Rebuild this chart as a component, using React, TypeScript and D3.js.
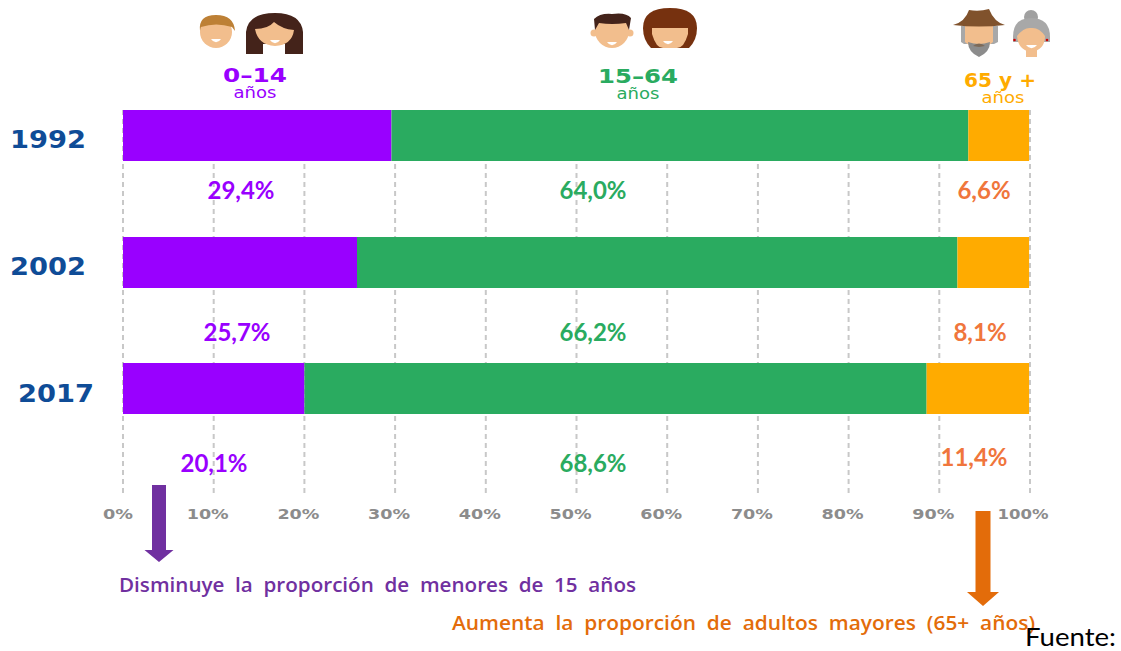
import React from "react";
import * as d3 from "d3";

const years = ["1992", "2002", "2017"];
const young = [29.6, 25.8, 20.0];
const adult = [63.6, 66.2, 68.6];
const older = [6.7, 7.9, 11.3];
const youngLabels = ["29,4%", "25,7%", "20,1%"];
const adultLabels = ["64,0%", "66,2%", "68,6%"];
const olderLabels = ["6,6%", "8,1%", "11,4%"];
const ticks = [0, 10, 20, 30, 40, 50, 60, 70, 80, 90, 100];

const W = 1121, H = 651;
const x = d3.scaleLinear().domain([0, 100]).range([123, 1030]);
const BAR_Y = [110, 237, 363];
const BAR_H = 51;
const PURPLE = "#9900ff", GREEN = "#2aab60", AMBER = "#ffab00", CORAL = "#f0763c";
const SKIN = "#f2be8d";
const LABEL_FONT = "'DejaVu Sans', sans-serif";
const PCT_FONT = "Lato, 'Open Sans', sans-serif";
const NOTE_FONT = "'Open Sans', Lato, sans-serif";

const yearX = [48, 48, 56];
const yearY = [148, 275, 402];
const youngX = [241, 237, 214];
const adultX = [593, 593, 593];
const olderX = [984, 980, 974];
const pctY = [199, 341, 472];

function Smile({ cx, cy, r = 5 }: { cx: number; cy: number; r?: number }) {
  return <path d={`M${cx - r},${cy} H${cx + r} Q${cx + r * 0.6},${cy + 3.2} ${cx},${cy + 3.2} Q${cx - r * 0.6},${cy + 3.2} ${cx - r},${cy}Z`} fill="#fff" />;
}

function Faces() {
  return (
    <g>
      {/* 0-14: boy */}
      <circle cx={216} cy={32} r={16} fill={SKIN} />
      <path d="M200,31 Q198,15 216,15 Q234,15 235,31 L232,27 Q216,22 201,27Z" fill="#bd8035" />
      <Smile cx={216} cy={39} r={5} />
      {/* 0-14: girl */}
      <path d="M246,54 L246,32 Q248,13 275,13 Q301,13 303,32 L303,54 L285,54 L285,44 L263,44 L263,54Z" fill="#44231a" />
      <path d="M255,29 Q268,29 274,22 Q282,29 294,30 Q292,45 275,46 Q258,45 255,29Z" fill={SKIN} />
      <Smile cx={275} cy={40} r={5} />
      {/* 15-64: man */}
      <circle cx={594} cy={33} r={3.5} fill={SKIN} />
      <circle cx={630} cy={33} r={3.5} fill={SKIN} />
      <circle cx={612} cy={31} r={17} fill={SKIN} />
      <path d="M595,30 L594,19 Q600,13 612,14 Q626,12 631,18 L629,30 L626,23 Q612,25 599,23Z" fill="#44231a" />
      <Smile cx={612} cy={42} r={5} />
      {/* 15-64: woman */}
      <path d="M651,48 Q643,40 643,28 Q643,8 670,8 Q697,8 697,28 Q697,40 689,48Z" fill="#76310f" />
      <path d="M652,28 H688 V34 Q684,48 677,48 H663 Q656,48 652,34Z" fill={SKIN} />
      <Smile cx={668} cy={41} r={5} />
      {/* 65+: man */}
      <path d="M961,26 H998 V42 L994,44 H964 L961,42Z" fill="#a8a8a8" />
      <path d="M965,26 H993 V42 Q979,54 965,42Z" fill={SKIN} />
      <path d="M968,42 Q979,46 990,42 Q990,52 979,57 Q968,52 968,42Z" fill="#8c8c8c" />
      <path d="M973,46 Q979,41 985,46 L979,47Z" fill="#7d6a58" />
      <path d="M953,25 Q965,22 969,10 Q979,12 989,9 Q994,22 1005,25 Q979,28 953,25Z" fill="#80522c" />
      {/* 65+: woman */}
      <circle cx={1031} cy={17} r={7} fill="#a0a0a0" />
      <path d="M1013,42 V37 Q1013,18 1031,18 Q1050,18 1050,37 V42Z" fill="#a8a8a8" />
      <path d="M1017,36 Q1024,27 1031,28 Q1039,27 1045,36 Q1045,50 1031,52 Q1018,50 1017,36Z" fill={SKIN} />
      <rect x={1026} y={49} width={11} height={8} fill={SKIN} />
      <circle cx={1014.5} cy={40} r={1.3} fill="#c00" />
      <circle cx={1047} cy={40} r={1.3} fill="#c00" />
      <Smile cx={1031.5} cy={45} r={5.5} />
    </g>
  );
}

function Arrow({ cx, top, shaftEnd, tip, shaftW, headW, fill }: { cx: number; top: number; shaftEnd: number; tip: number; shaftW: number; headW: number; fill: string }) {
  return (
    <path
      d={`M${cx - shaftW / 2},${top} H${cx + shaftW / 2} V${shaftEnd} H${cx + headW / 2} L${cx},${tip} L${cx - headW / 2},${shaftEnd} H${cx - shaftW / 2}Z`}
      fill={fill}
    />
  );
}

export default function App() {
  const stacks = years.map((_, i) => {
    const a = young[i], b = a + adult[i], c = b + older[i];
    return [
      { x0: 0, x1: a, fill: PURPLE },
      { x0: a, x1: b, fill: GREEN },
      { x0: b, x1: c, fill: AMBER },
    ];
  });
  return (
    <svg width={W} height={H} style={{ position: "absolute", left: 0, top: 0, background: "#fff" }}>
      <Faces />
      <g textAnchor="middle" fontFamily={LABEL_FONT}>
        <text x={255} y={82} fontSize={20} fontWeight={700} fill={PURPLE} textLength={64} lengthAdjust="spacingAndGlyphs">0–14</text>
        <text x={255} y={98} fontSize={15} fill={PURPLE} textLength={43} lengthAdjust="spacingAndGlyphs">años</text>
        <text x={638} y={83} fontSize={20} fontWeight={700} fill={GREEN} textLength={80} lengthAdjust="spacingAndGlyphs">15–64</text>
        <text x={638} y={99} fontSize={15} fill={GREEN} textLength={43} lengthAdjust="spacingAndGlyphs">años</text>
        <text x={1000} y={87} fontSize={20} fontWeight={700} fill={AMBER} textLength={72} lengthAdjust="spacingAndGlyphs">65 y +</text>
        <text x={1003} y={103} fontSize={15} fill={AMBER} textLength={43} lengthAdjust="spacingAndGlyphs">años</text>
      </g>
      <g stroke="#c8c8c8" strokeWidth={2} strokeDasharray="5 4">
        {ticks.map((t) => (
          <line key={t} x1={x(t)} x2={x(t)} y1={110} y2={496} />
        ))}
      </g>
      {stacks.map((segs, i) =>
        segs.map((s, j) => (
          <rect key={`${i}-${j}`} x={x(s.x0)} y={BAR_Y[i]} width={x(s.x1) - x(s.x0)} height={BAR_H} fill={s.fill} />
        ))
      )}
      {years.map((y, i) => (
        <text key={y} x={yearX[i]} y={yearY[i]} textAnchor="middle" fontFamily={LABEL_FONT} fontSize={24} fontWeight={700} fill="#0f4c97" textLength={76} lengthAdjust="spacingAndGlyphs">{y}</text>
      ))}
      <g fontFamily={PCT_FONT} fontWeight={700} fontSize={24} textAnchor="middle">
        {years.map((y, i) => (
          <g key={y}>
            <text x={youngX[i]} y={pctY[i]} fill={PURPLE}>{youngLabels[i]}</text>
            <text x={adultX[i]} y={pctY[i]} fill={GREEN}>{adultLabels[i]}</text>
            <text x={olderX[i]} y={i === 2 ? pctY[i] - 6 : pctY[i]} fill={CORAL}>{olderLabels[i]}</text>
          </g>
        ))}
      </g>
      <g fontFamily={LABEL_FONT} fontWeight={700} fontSize={14} fill="#8c8c8c" textAnchor="middle">
        {ticks.map((t) => (
          <text key={t} x={x(t) + (t === 0 ? -5 : t === 100 ? -7 : -6)} y={519} textLength={t === 100 ? 51 : t === 0 ? 30 : 42} lengthAdjust="spacingAndGlyphs">{t}%</text>
        ))}
      </g>
      <Arrow cx={159} top={485} shaftEnd={550} tip={562} shaftW={14} headW={29} fill="#7030a0" />
      <Arrow cx={983} top={511} shaftEnd={592} tip={606} shaftW={15} headW={32} fill="#e36c0a" />
      <text x={119} y={592} fontFamily={NOTE_FONT} fontWeight={600} fontSize={19} fill="#7030a0" textLength={517} lengthAdjust="spacingAndGlyphs" xmlSpace="preserve">Disminuye  la  proporción  de  menores  de  15  años</text>
      <text x={452} y={630} fontFamily={NOTE_FONT} fontWeight={600} fontSize={19} fill="#e36c0a" textLength={583} lengthAdjust="spacingAndGlyphs" xmlSpace="preserve">Aumenta  la  proporción  de  adultos  mayores  (65+  años)</text>
      <text x={1025} y={645.5} fontFamily={PCT_FONT} fontSize={25} fill="#000" textLength={91} lengthAdjust="spacingAndGlyphs">Fuente:</text>
    </svg>
  );
}
